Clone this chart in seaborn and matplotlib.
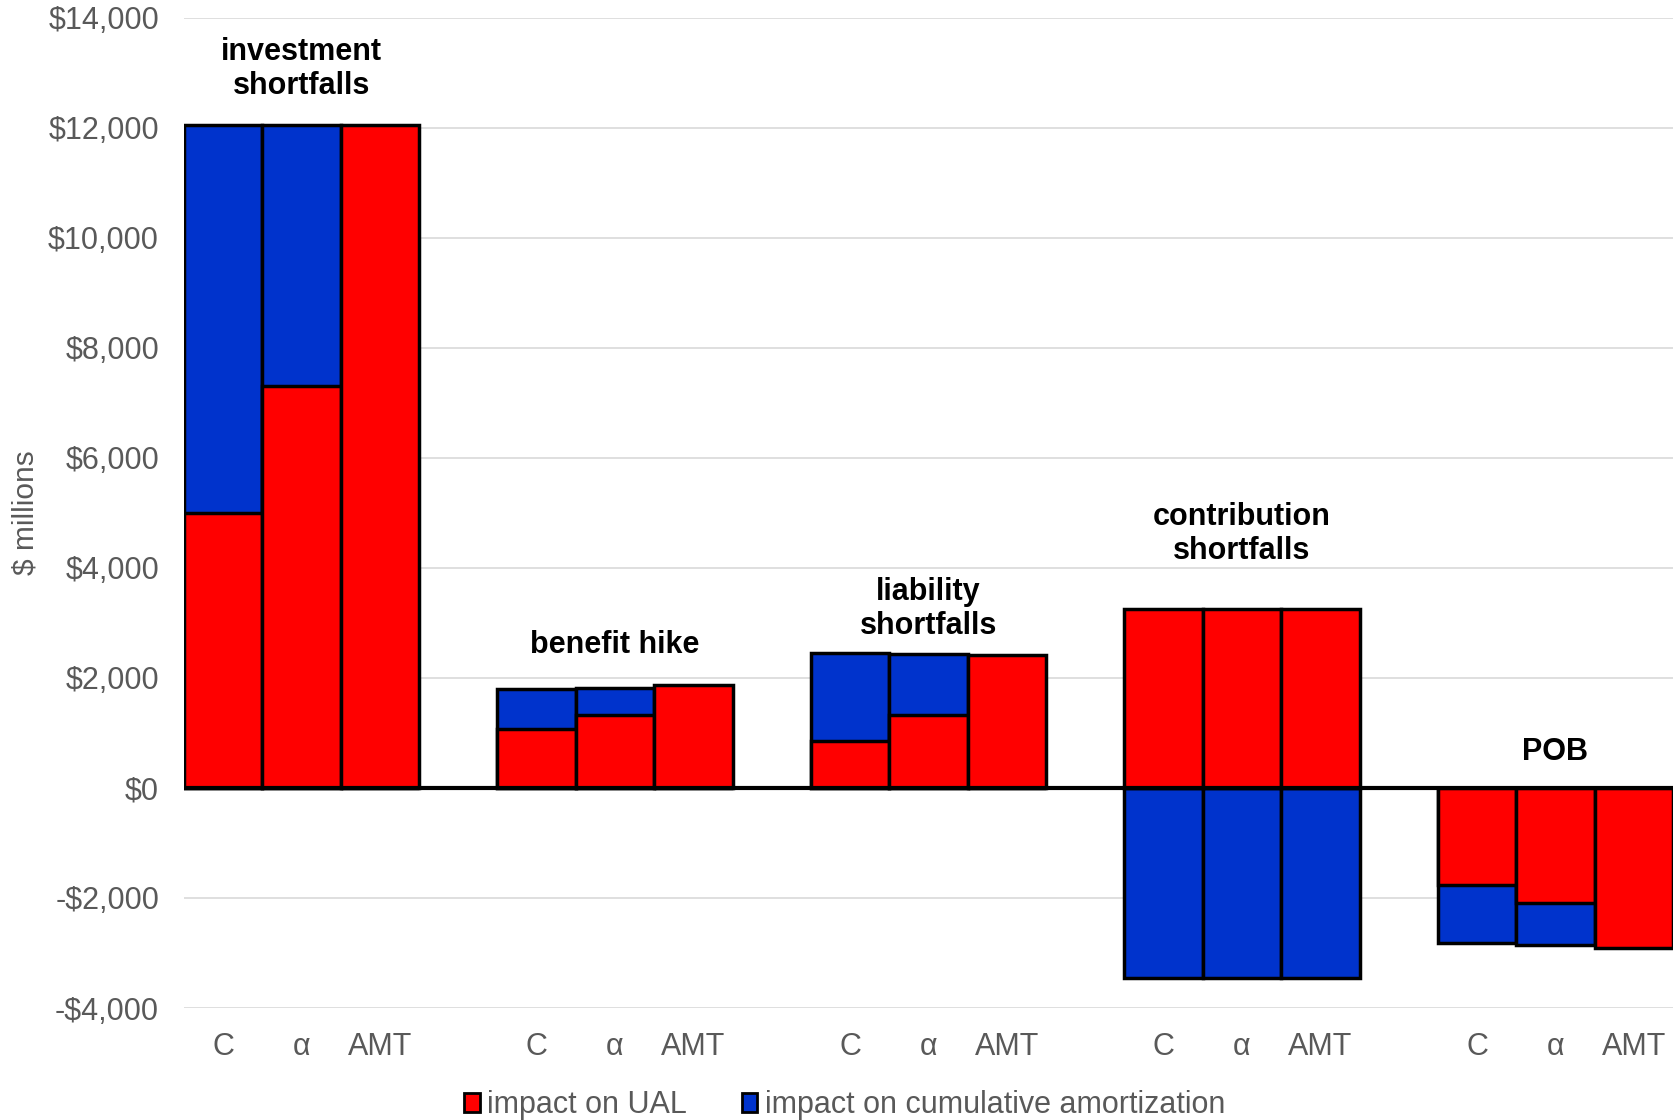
import matplotlib
matplotlib.use("Agg")
import matplotlib.pyplot as plt
import matplotlib.ticker as mticker
from matplotlib.patches import Patch
import seaborn as sns
import numpy as np
import pandas as pd

# 数据
groups = ["investment\nshortfalls", "benefit hike", "liability\nshortfalls",
          "contribution\nshortfalls", "POB"]
methods = ["C", "α", "AMT"]
ual = [5000, 7300, 12050,
       1070, 1320, 1865,
       855, 1320, 2410,
       3250, 3250, 3250,
       -1770, -2100, -2910]
amort = [7050, 4750, 0,
         735, 505, 0,
         1590, 1110, 0,
         -3460, -3460, -3460,
         -1045, -750, 0]
label_y = [13070, 2600, 3250, 4620, 650]

sns.set_theme(style="white")
plt.rcParams['font.family'] = ['Liberation Sans', 'DejaVu Sans']

red = "#FF0000"
blue = "#0033CC"
grey = "#595959"

# 位置：每组3根柱，组间空一格
pos = [g * 4 + b for g in range(len(groups)) for b in range(len(methods))]
ual = np.array(ual)
amort = np.array(amort)
same_sign = np.sign(ual) == np.sign(amort)
blue_end = np.where(same_sign, ual + amort, amort)

df = pd.DataFrame({'pos': pos, 'ual': ual, 'blue_end': blue_end})

fig = plt.figure(figsize=(16.73, 11.2), dpi=100)
ax = fig.add_axes([0.110, 0.10, 0.890, 0.884])

for y in range(-4000, 14001, 2000):
    ax.axhline(y, color="#d9d9d9", lw=1.2, zorder=0)

sns.barplot(data=df, x='pos', y='blue_end', native_scale=True, width=1,
            color=blue, saturation=1, edgecolor='black', linewidth=2.5,
            errorbar=None, ax=ax, zorder=2)
sns.barplot(data=df, x='pos', y='ual', native_scale=True, width=1,
            color=red, saturation=1, edgecolor='black', linewidth=2.5,
            errorbar=None, ax=ax, zorder=3)

ax.axhline(0, color='black', lw=3, zorder=4)

ax.set_xlim(-0.5, 18.5)
ax.set_ylim(-4000, 14000)
ax.set_yticks(range(-4000, 14001, 2000))
ax.yaxis.set_major_formatter(mticker.FuncFormatter(
    lambda v, p: f"-${abs(v):,.0f}" if v < 0 else f"${v:,.0f}"))
ax.set_xticks(pos)
ax.set_xticklabels(methods * len(groups))
ax.tick_params(axis='y', length=0, pad=18, labelsize=22, labelcolor=grey)
ax.tick_params(axis='x', length=0, pad=17, labelsize=22, labelcolor=grey)
ax.set_xlabel('')
ax.set_ylabel('$ millions', fontsize=21.5, color=grey, labelpad=6)
for s in ax.spines.values():
    s.set_visible(False)

for g, name in enumerate(groups):
    ax.text(g * 4 + 1, label_y[g], name, ha='center', va='center',
            fontsize=22, fontweight='bold', color='black', linespacing=1.15)

handles = [Patch(facecolor=red, edgecolor='black', linewidth=2),
           Patch(facecolor=blue, edgecolor='black', linewidth=2)]
fig.legend(handles, ['impact on UAL', 'impact on cumulative amortization'],
           loc='lower center', bbox_to_anchor=(0.505, -0.025), ncol=2, frameon=False,
           fontsize=22, labelcolor=grey, handlelength=0.5, handleheight=0.55,
           handletextpad=0.25, columnspacing=1.8)

fig.savefig('out.png', dpi=100)
